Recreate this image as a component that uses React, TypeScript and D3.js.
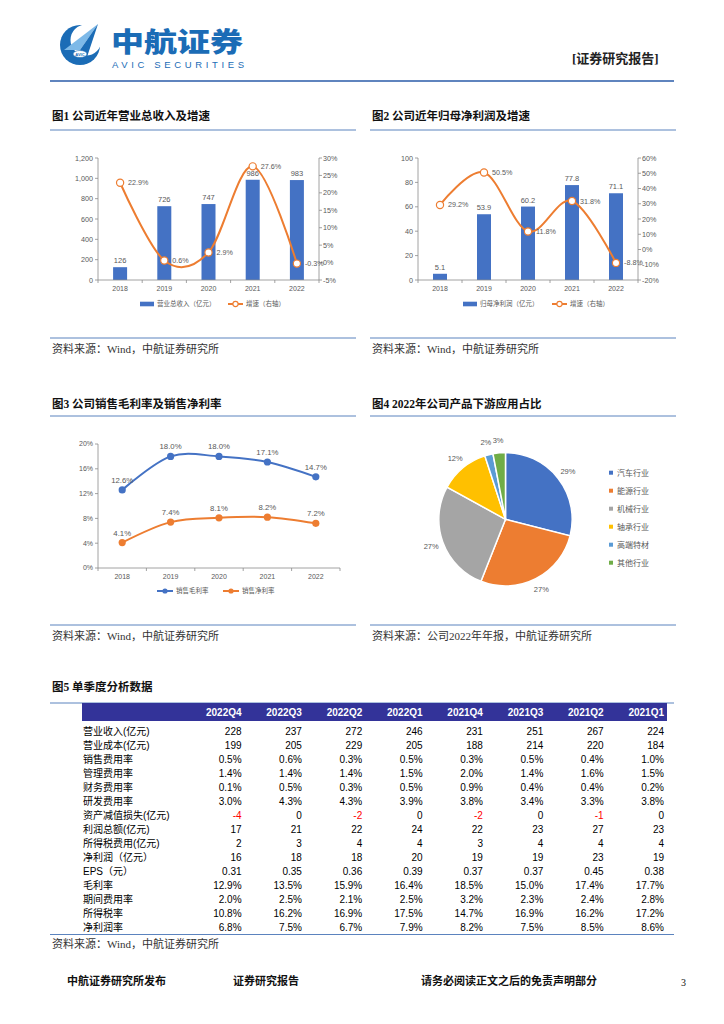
import React from 'react';
import * as d3 from 'd3';

const SANS = '"Liberation Sans", Arial, "Noto Sans CJK SC", sans-serif';
const SERIF = '"Liberation Serif", "Noto Sans CJK SC", serif';
const BLUE = '#4472C4';
const ORANGE = '#ED7D31';
const GREY_TXT = '#595959';
const AXIS = '#8c8c8c';
const RULE = '#5B83BE';

// ---- data ----
const years = ['2018', '2019', '2020', '2021', '2022'];

const revenue = [126, 726, 747, 986, 983];
const revenueGrowth = [22.9, 0.6, 2.9, 27.6, -0.3];
const revenueTicks = [0, 200, 400, 600, 800, 1000, 1200];
const revenueGrowthTicks = [-5, 0, 5, 10, 15, 20, 25, 30];

const netProfit = [5.1, 53.9, 60.2, 77.8, 71.1];
const netProfitGrowth = [29.2, 50.5, 11.8, 31.8, -8.8];
const netProfitTicks = [0, 20, 40, 60, 80, 100];
const netProfitGrowthTicks = [-20, -10, 0, 10, 20, 30, 40, 50, 60];

const grossMargin = [12.6, 18.0, 18.0, 17.1, 14.7];
const netMargin = [4.1, 7.4, 8.1, 8.2, 7.2];
const marginTicks = [0, 4, 8, 12, 16, 20];

const pieCategories = ['汽车行业', '能源行业', '机械行业', '轴承行业', '高端特材', '其他行业'];
const pieShares = [29, 27, 27, 12, 2, 3];
const pieColors = ['#4472C4', '#ED7D31', '#A5A5A5', '#FFC000', '#5B9BD5', '#70AD47'];

const quarters = ['2022Q4', '2022Q3', '2022Q2', '2022Q1', '2021Q4', '2021Q3', '2021Q2', '2021Q1'];
const rowLabels = [
  '营业收入(亿元)', '营业成本(亿元)', '销售费用率', '管理费用率', '财务费用率', '研发费用率',
  '资产减值损失(亿元)', '利润总额(亿元)', '所得税费用(亿元)', '净利润（亿元）', 'EPS（元）',
  '毛利率', '期间费用率', '所得税率', '净利润率',
];
const rowValues = [
  ['228', '237', '272', '246', '231', '251', '267', '224'],
  ['199', '205', '229', '205', '188', '214', '220', '184'],
  ['0.5%', '0.6%', '0.3%', '0.5%', '0.3%', '0.5%', '0.4%', '1.0%'],
  ['1.4%', '1.4%', '1.4%', '1.5%', '2.0%', '1.4%', '1.6%', '1.5%'],
  ['0.1%', '0.5%', '0.3%', '0.5%', '0.9%', '0.4%', '0.4%', '0.2%'],
  ['3.0%', '4.3%', '4.3%', '3.9%', '3.8%', '3.4%', '3.3%', '3.8%'],
  ['-4', '0', '-2', '0', '-2', '0', '-1', '0'],
  ['17', '21', '22', '24', '22', '23', '27', '23'],
  ['2', '3', '4', '4', '3', '4', '4', '4'],
  ['16', '18', '18', '20', '19', '19', '23', '19'],
  ['0.31', '0.35', '0.36', '0.39', '0.37', '0.37', '0.45', '0.38'],
  ['12.9%', '13.5%', '15.9%', '16.4%', '18.5%', '15.0%', '17.4%', '17.7%'],
  ['2.0%', '2.5%', '2.1%', '2.5%', '3.2%', '2.3%', '2.4%', '2.8%'],
  ['10.8%', '16.2%', '16.9%', '17.5%', '14.7%', '16.9%', '16.2%', '17.2%'],
  ['6.8%', '7.5%', '6.7%', '7.9%', '8.2%', '7.5%', '8.5%', '8.6%'],
];

const pct = (d: number) => `${d.toFixed(1)}%`;

function Header() {
  return (
    <g>
      <circle cx={80} cy={45} r={20} fill="#1B6CB6" />
      <circle cx={86} cy={40} r={15.5} fill="#fff" />
      <polygon points="64,50 98,24 80,50" fill="#7DB9E8" />
      <polygon points="80,50 98,24 87,57" fill="#1B6CB6" />
      <ellipse cx={80} cy={54} rx={7} ry={3.5} fill="#fff" stroke="#1B6CB6" strokeWidth={0.6} />
      <text x={80} y={55.5} fontSize={4} fill="#1B6CB6" textAnchor="middle" fontFamily={SANS} fontWeight={700}>AVIC</text>
      <text x={111} y={51.5} fontSize={27} fontWeight={900} fill="#1B6CB6" fontFamily='"Noto Sans CJK SC", sans-serif'
        textLength={132} lengthAdjust="spacingAndGlyphs">中航证券</text>
      <text x={112} y={68} fontSize={9.5} fill="#1B6CB6" fontFamily={SANS}
        textLength={132} lengthAdjust="spacing">AVIC SECURITIES</text>
      <text x={572} y={63} fontSize={13} fontWeight={700} fill="#222" fontFamily={SERIF}>[证券研究报告]</text>
      <line x1={50} x2={674} y1={81} y2={81} stroke="#2A5BA8" strokeWidth={1.6} />
    </g>
  );
}

function Section({ x, y, title, lineY, sourceY, source }: any) {
  return (
    <g>
      <text x={x + 2} y={y} fontSize={11.5} fontWeight={700} fill="#111" fontFamily={SERIF}>{title}</text>
      <line x1={x} x2={x + 306} y1={lineY} y2={lineY} stroke={RULE} strokeWidth={1} />
      <line x1={x} x2={x + 306} y1={sourceY} y2={sourceY} stroke={RULE} strokeWidth={1} />
      <text x={x + 2} y={sourceY + 15} fontSize={11} fill="#333" fontFamily={SERIF}>{source}</text>
    </g>
  );
}

function BarLineChart({ left, right, top, bottom, bars, growth, leftDomain, leftTicks, rightDomain, rightTicks,
  leftFmt, barFmt, barLegend, legendX }: any) {
  const x = d3.scaleBand().domain(years).range([left, right]);
  const bw = x.bandwidth();
  const cx = (i: number) => (x(years[i]) as number) + bw / 2;
  const yL = d3.scaleLinear().domain(leftDomain).range([bottom, top]);
  const yR = d3.scaleLinear().domain(rightDomain).range([bottom, top]);
  const line = d3.line<number>().x((_, i) => cx(i)).y((d) => yR(d)).curve(d3.curveCardinal.tension(0));
  const barW = 14;
  const ly = 304;
  return (
    <g fontFamily={SANS}>
      {bars.map((v: number, i: number) => (
        <g key={i}>
          <rect x={cx(i) - barW / 2} y={yL(v)} width={barW} height={bottom - yL(v)} fill={BLUE} />
          <text x={cx(i)} y={yL(v) - 4} fontSize={7.5} fill={GREY_TXT} textAnchor="middle">{barFmt(v)}</text>
        </g>
      ))}
      {/* axes */}
      <line x1={left} x2={left} y1={top} y2={bottom} stroke={AXIS} strokeWidth={0.8} />
      <line x1={right} x2={right} y1={top} y2={bottom} stroke={AXIS} strokeWidth={0.8} />
      <line x1={left} x2={right} y1={bottom} y2={bottom} stroke={AXIS} strokeWidth={0.8} />
      {leftTicks.map((t: number) => (
        <g key={'l' + t}>
          <line x1={left - 3} x2={left} y1={yL(t)} y2={yL(t)} stroke={AXIS} strokeWidth={0.8} />
          <text x={left - 5} y={yL(t)} dy="0.35em" fontSize={7.2} fill={GREY_TXT} textAnchor="end">{leftFmt(t)}</text>
        </g>
      ))}
      {rightTicks.map((t: number) => (
        <g key={'r' + t}>
          <line x1={right} x2={right + 3} y1={yR(t)} y2={yR(t)} stroke={AXIS} strokeWidth={0.8} />
          <text x={right + 4} y={yR(t)} dy="0.35em" fontSize={7.2} fill={GREY_TXT}>{`${t}%`}</text>
        </g>
      ))}
      {years.map((yr, i) => (
        <g key={yr}>
          <line x1={x(yr)} x2={x(yr)} y1={bottom} y2={bottom + 3} stroke={AXIS} strokeWidth={0.8} />
          <text x={cx(i)} y={bottom + 11} fontSize={7} fill={GREY_TXT} textAnchor="middle">{yr}</text>
        </g>
      ))}
      <line x1={right} x2={right} y1={bottom} y2={bottom + 3} stroke={AXIS} strokeWidth={0.8} />
      <path d={line(growth) as string} fill="none" stroke={ORANGE} strokeWidth={2} />
      {growth.map((v: number, i: number) => (
        <g key={'g' + i}>
          <circle cx={cx(i)} cy={yR(v)} r={3.6} fill="#fff" stroke={ORANGE} strokeWidth={1.2} />
          <text x={cx(i) + 8} y={yR(v)} dy="0.35em" fontSize={7.2} fill={GREY_TXT}>{pct(v)}</text>
        </g>
      ))}
      {/* legend */}
      <rect x={legendX[0]} y={ly - 2.3} width={14} height={4.6} fill={BLUE} />
      <text x={legendX[0] + 17} y={ly} dy="0.35em" fontSize={6.5} fill={GREY_TXT}>{barLegend}</text>
      <line x1={legendX[1]} x2={legendX[1] + 15} y1={ly} y2={ly} stroke={ORANGE} strokeWidth={2} />
      <circle cx={legendX[1] + 7.5} cy={ly} r={2.6} fill="#fff" stroke={ORANGE} strokeWidth={1.1} />
      <text x={legendX[1] + 18} y={ly} dy="0.35em" fontSize={6.5} fill={GREY_TXT}>增速（右轴）</text>
    </g>
  );
}

function MarginChart() {
  const left = 98, right = 340, top = 444, bottom = 568;
  const x = d3.scaleBand().domain(years).range([left, right]);
  const bw = x.bandwidth();
  const cx = (i: number) => (x(years[i]) as number) + bw / 2;
  const y = d3.scaleLinear().domain([0, 20]).range([bottom, top]);
  const line = d3.line<number>().x((_, i) => cx(i)).y((d) => y(d)).curve(d3.curveCardinal.tension(0));
  const series = [
    { values: grossMargin, color: BLUE, name: '销售毛利率', lx: 157 },
    { values: netMargin, color: ORANGE, name: '销售净利率', lx: 223 },
  ];
  const ly = 591;
  return (
    <g fontFamily={SANS}>
      <line x1={left} x2={left} y1={top} y2={bottom} stroke={AXIS} strokeWidth={0.8} />
      <line x1={left} x2={right} y1={bottom} y2={bottom} stroke={AXIS} strokeWidth={0.8} />
      {marginTicks.map((t) => (
        <g key={t}>
          <line x1={left - 3} x2={left} y1={y(t)} y2={y(t)} stroke={AXIS} strokeWidth={0.8} />
          <text x={left - 5} y={y(t)} dy="0.35em" fontSize={7} fill={GREY_TXT} textAnchor="end">{`${t}%`}</text>
        </g>
      ))}
      {years.map((yr, i) => (
        <g key={yr}>
          <line x1={x(yr)} x2={x(yr)} y1={bottom} y2={bottom + 3} stroke={AXIS} strokeWidth={0.8} />
          <text x={cx(i)} y={bottom + 11} fontSize={7} fill={GREY_TXT} textAnchor="middle">{yr}</text>
        </g>
      ))}
      <line x1={right} x2={right} y1={bottom} y2={bottom + 3} stroke={AXIS} strokeWidth={0.8} />
      {series.map((s) => (
        <g key={s.name}>
          <path d={line(s.values) as string} fill="none" stroke={s.color} strokeWidth={2} />
          {s.values.map((v, i) => (
            <g key={i}>
              <circle cx={cx(i)} cy={y(v)} r={3.6} fill={s.color} />
              <text x={cx(i)} y={y(v) - 7} fontSize={7.8} fill={GREY_TXT} textAnchor="middle">{pct(v)}</text>
            </g>
          ))}
          <line x1={s.lx} x2={s.lx + 16} y1={ly} y2={ly} stroke={s.color} strokeWidth={2} />
          <circle cx={s.lx + 8} cy={ly} r={2.6} fill={s.color} />
          <text x={s.lx + 19} y={ly} dy="0.35em" fontSize={6.5} fill={GREY_TXT}>{s.name}</text>
        </g>
      ))}
    </g>
  );
}

function PieChart() {
  const cx = 505.5, cy = 519.3, r = 66.7;
  const arcs = d3.pie<number>().sort(null).value((d) => d)(pieShares);
  const arc = d3.arc<d3.PieArcDatum<number>>().innerRadius(0).outerRadius(r);
  const labelArc = d3.arc<d3.PieArcDatum<number>>().innerRadius(79).outerRadius(79);
  return (
    <g fontFamily={SANS}>
      <g transform={`translate(${cx},${cy})`}>
        {arcs.map((a, i) => (
          <path key={i} d={arc(a) as string} fill={pieColors[i]} stroke="#fff" strokeWidth={1.5} />
        ))}
        {arcs.map((a, i) => {
          const [lx, ly] = labelArc.centroid(a);
          return (
            <text key={'t' + i} x={lx} y={ly} dy="0.35em" fontSize={7.5} fill={GREY_TXT} textAnchor="middle">
              {`${pieShares[i]}%`}
            </text>
          );
        })}
      </g>
      {pieCategories.map((c, i) => (
        <g key={c}>
          <rect x={609} y={472.7 + 18 * i - 2} width={4} height={4} fill={pieColors[i]} />
          <text x={617} y={472.7 + 18 * i} dy="0.35em" fontSize={8} fill={GREY_TXT}>{c}</text>
        </g>
      ))}
    </g>
  );
}

function QuarterTable() {
  const top = 703, headH = 18, rowH = 14;
  const col = d3.scaleBand().domain(quarters).range([181.2, 664]);
  const bw = col.bandwidth();
  const rowY = (i: number) => top + headH + 10 + rowH * i;
  return (
    <g fontFamily={SANS}>
      <text x={52} y={691} fontSize={11.5} fontWeight={700} fill="#111" fontFamily={SERIF}>图5  单季度分析数据</text>
      <line x1={50} x2={674} y1={703} y2={703} stroke={RULE} strokeWidth={1} />
      <rect x={82} y={top} width={585} height={headH} fill="#333399" />
      {quarters.map((q) => (
        <text key={q} x={(col(q) as number) + bw} y={top + headH / 2} dy="0.36em" fontSize={10} fontWeight={700}
          fill="#fff" textAnchor="end">{q}</text>
      ))}
      {rowLabels.map((lab, i) => (
        <g key={lab}>
          <text x={83} y={rowY(i)} dy="0.36em" fontSize={10} fill="#000">{lab}</text>
          {rowValues[i].map((v, j) => (
            <text key={j} x={(col(quarters[j]) as number) + bw} y={rowY(i)} dy="0.36em" fontSize={10}
              fill={v.startsWith('-') ? '#FF0000' : '#000'} textAnchor="end">{v}</text>
          ))}
        </g>
      ))}
      <line x1={50} x2={674} y1={934.5} y2={934.5} stroke={RULE} strokeWidth={1} />
      <text x={52} y={948} fontSize={11} fill="#333" fontFamily={SERIF}>资料来源：Wind，中航证券研究所</text>
    </g>
  );
}

function Footer() {
  return (
    <g fontFamily={SERIF} fontWeight={700} fill="#111" fontSize={11}>
      <text x={67} y={985}>中航证券研究所发布</text>
      <text x={233} y={985}>证券研究报告</text>
      <text x={421} y={985}>请务必阅读正文之后的免责声明部分</text>
      <text x={681} y={986} fontWeight={400} fontSize={10}>3</text>
    </g>
  );
}

export default function App() {
  return (
    <svg width={724} height={1024} style={{ position: 'absolute', left: 0, top: 0, background: '#fff' }}>
      <rect width={724} height={1024} fill="#fff" />
      <Header />
      <Section x={50} y={120} lineY={130} sourceY={338} title="图1  公司近年营业总收入及增速" source="资料来源：Wind，中航证券研究所" />
      <Section x={370} y={120} lineY={130} sourceY={338} title="图2  公司近年归母净利润及增速" source="资料来源：Wind，中航证券研究所" />
      <Section x={50} y={408} lineY={416} sourceY={625} title="图3  公司销售毛利率及销售净利率" source="资料来源：Wind，中航证券研究所" />
      <Section x={370} y={408} lineY={416} sourceY={625} title="图4  2022年公司产品下游应用占比" source="资料来源：公司2022年年报，中航证券研究所" />
      <BarLineChart left={98} right={319} top={158} bottom={280} bars={revenue} growth={revenueGrowth}
        leftDomain={[0, 1200]} leftTicks={revenueTicks} rightDomain={[-5, 30]} rightTicks={revenueGrowthTicks}
        leftFmt={d3.format(',')} barFmt={(v: number) => `${v}`} barLegend="营业总收入（亿元）" legendX={[140, 228]} />
      <BarLineChart left={418} right={638} top={158} bottom={280} bars={netProfit} growth={netProfitGrowth}
        leftDomain={[0, 100]} leftTicks={netProfitTicks} rightDomain={[-20, 60]} rightTicks={netProfitGrowthTicks}
        leftFmt={(v: number) => `${v}`} barFmt={(v: number) => v.toFixed(1)} barLegend="归母净利润（亿元）" legendX={[463, 552]} />
      <MarginChart />
      <PieChart />
      <QuarterTable />
      <Footer />
    </svg>
  );
}
